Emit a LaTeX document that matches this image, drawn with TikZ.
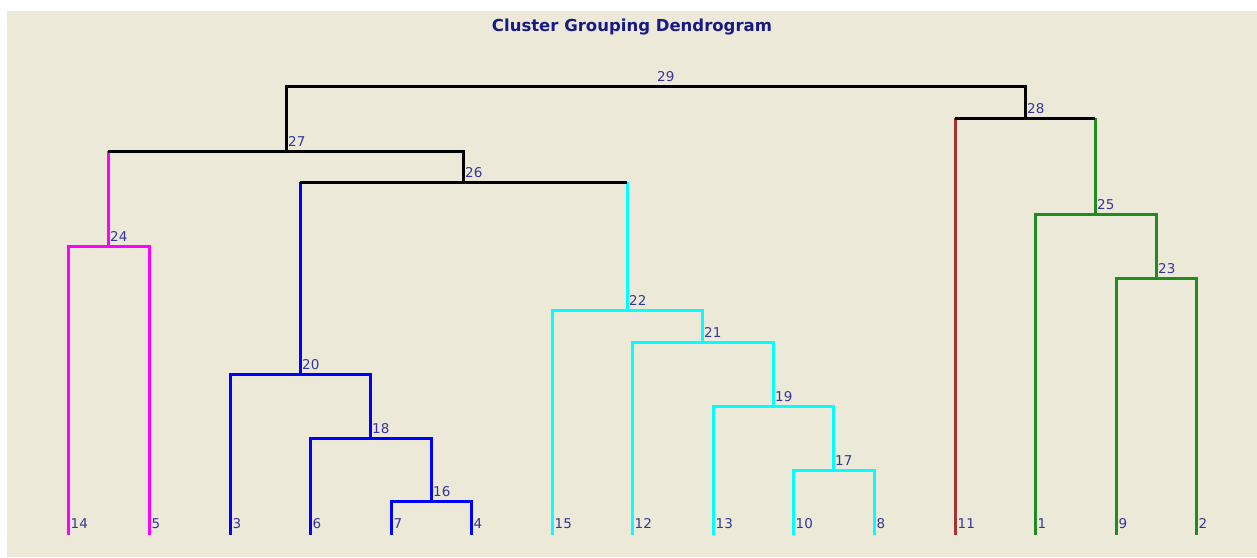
\documentclass[tikz,border=0pt]{standalone}
\usepackage{fontspec}
\setmainfont{DejaVu Sans}
\usetikzlibrary{calc}
\definecolor{panel}{HTML}{ECE9D8}
\definecolor{labelblue}{HTML}{35359A}
\definecolor{titleblue}{HTML}{1A1A85}
\definecolor{clmagenta}{HTML}{FF00FF}
\definecolor{clblue}{HTML}{0000FF}
\definecolor{clcyan}{HTML}{00FFFF}
\definecolor{clred}{HTML}{A83232}
\definecolor{clgreen}{HTML}{1E8C1E}
\tikzset{
  link/.style={line width=3pt},
  tag/.style={text=labelblue, font=\fontsize{13.5}{14}\selectfont, inner sep=1.5pt, anchor=base west},
}
\begin{document}
\begin{tikzpicture}[x=1pt,y=-1pt]
                \useasboundingbox (0,0) rectangle (1257,557);
                \fill [white] (0,0) rectangle (1257,557);
                \fill [panel] (7,11) rectangle (1257,557);
                \node [text=titleblue, font=\bfseries\fontsize{16.5}{19}\selectfont] (title) at (632,27) {Cluster Grouping Dendrogram};
                % leaves
                \coordinate (l14) at (68,535);
                \coordinate (l5) at (149,535);
                \coordinate (l3) at (230,535);
                \coordinate (l6) at (310,535);
                \coordinate (l7) at (391,535);
                \coordinate (l4) at (471,535);
                \coordinate (l15) at (552,535);
                \coordinate (l12) at (632,535);
                \coordinate (l13) at (713,535);
                \coordinate (l10) at (793,535);
                \coordinate (l8) at (874,535);
                \coordinate (l11) at (955,535);
                \coordinate (l1) at (1035,535);
                \coordinate (l9) at (1116,535);
                \coordinate (l2) at (1196,535);
                % merges
                \coordinate (m16) at (431,501);
                \coordinate (m17) at (833,470);
                \coordinate (m18) at (370,438);
                \coordinate (m19) at (773,406);
                \coordinate (m20) at (300,374);
                \coordinate (m21) at (702,342);
                \coordinate (m22) at (627,310);
                \coordinate (m23) at (1156,278);
                \coordinate (m24) at (108,246);
                \coordinate (m25) at (1095,214);
                \coordinate (m26) at (463,182);
                \coordinate (m27) at (286,151);
                \coordinate (m28) at (1025,118);
                \coordinate (m29) at (655,86);
                % magenta
                \draw [link,clmagenta] (l14) |- (m24) -| (l5);
                \draw [link,clmagenta] (m24) -- (m24 |- m27);
                % blue
                \draw [link,clblue] (l7) |- (m16) -| (l4);
                \draw [link,clblue] (l6) |- (m18) -| (m16);
                \draw [link,clblue] (l3) |- (m20) -| (m18);
                \draw [link,clblue] (m20) -- (m20 |- m26);
                % cyan
                \draw [link,clcyan] (l10) |- (m17) -| (l8);
                \draw [link,clcyan] (l13) |- (m19) -| (m17);
                \draw [link,clcyan] (l12) |- (m21) -| (m19);
                \draw [link,clcyan] (l15) |- (m22) -| (m21);
                \draw [link,clcyan] (m22) -- (m22 |- m26);
                % red and green
                \draw [link,clred] (l11) -- (l11 |- m28);
                \draw [link,clgreen] (l9) |- (m23) -| (l2);
                \draw [link,clgreen] (l1) |- (m25) -| (m23);
                \draw [link,clgreen] (m25) -- (m25 |- m28);
                % black
                \draw [link] (m20 |- m26) -- (m22 |- m26);
                \draw [link] (m24 |- m27) -| (m26);
                \draw [link] (m27) |- (m29) -| (m28);
                \draw [link] (l11 |- m28) -- (m25 |- m28);
                % merge labels
                \foreach \k in {16,...,29}
                    \node [tag] (t\k) at ($(m\k)+(0.5,-5)$) {\k};
                % leaf labels
                \foreach \k in {14,5,3,6,7,4,15,12,13,10,8,11,1,9,2}
                    \node [tag] (n\k) at ($(l\k)+(1,-7)$) {\k};
            \end{tikzpicture}
\end{document}
